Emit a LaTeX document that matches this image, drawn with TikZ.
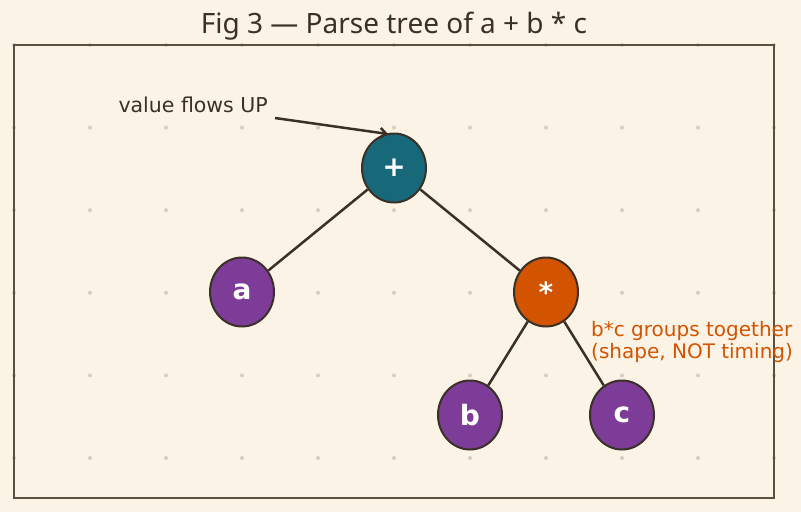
\documentclass[tikz,border=0pt]{standalone}
\usepackage{fontspec}
\setmainfont{DejaVu Sans}
\newfontfamily\titlefont{Noto Sans}
\usetikzlibrary{arrows.meta,shapes.geometric}
\definecolor{bg}{HTML}{FAF3E6}
\definecolor{ink}{HTML}{3A3028}
\definecolor{framec}{HTML}{5A5040}
\definecolor{dotc}{HTML}{D6CEBE}
\definecolor{tealc}{HTML}{17697A}
\definecolor{purplec}{HTML}{7D3C98}
\definecolor{orangec}{HTML}{D35400}
\tikzset{
  opnode/.style={ellipse, draw=ink, line width=2pt, minimum width=64pt, minimum height=69pt, inner sep=0pt, text=white, font=\fontsize{28}{30}\selectfont\bfseries},
  edge/.style={draw=ink, line width=2.5pt},
  lbl/.style={font=\fontsize{20.5}{22}\selectfont, text=ink, inner sep=0pt},
}
\begin{document}
\begin{tikzpicture}[x=1pt,y=-1pt]
\fill[bg] (0,0) rectangle (801,512);
\useasboundingbox (0,0) rectangle (801,512);
\foreach \x in {14,90,...,774} {
  \foreach \y in {45,127.6,210.2,292.8,375.4,458} {
    \fill[dotc] (\x,\y) circle (2pt);
  }
}
\draw[framec, line width=1.5pt] (14,45) rectangle (774,498);
\node[font=\titlefont\fontsize{28}{30}\selectfont, text=ink] (title) at (394,26) {Fig 3 — Parse tree of a + b * c};
\node[opnode, fill=tealc] (plus) at (394,168) {+};
\node[opnode, fill=purplec] (a) at (242,292) {a};
\node[opnode, fill=orangec] (times) at (546,292) {*};
\node[opnode, fill=purplec] (b) at (470,415) {b};
\node[opnode, fill=purplec] (c) at (622,415) {c};
\draw[edge] (plus) -- (a);
\draw[edge] (plus) -- (times);
\draw[edge] (times) -- (b);
\draw[edge] (times) -- (c);
\node[lbl, anchor=east] (flow) at (268,105) {value flows UP};
\coordinate (fs) at (275,118);
\coordinate (ft) at (388,134);
\draw[edge, -{Straight Barb[length=6pt,width=10pt]}] (fs) -- (ft);
\node[lbl, text=orangec, anchor=west, align=left, font=\fontsize{20}{22}\selectfont] (note) at (591,342) {b*c groups together\\(shape, NOT timing)};
\end{tikzpicture}
\end{document}
